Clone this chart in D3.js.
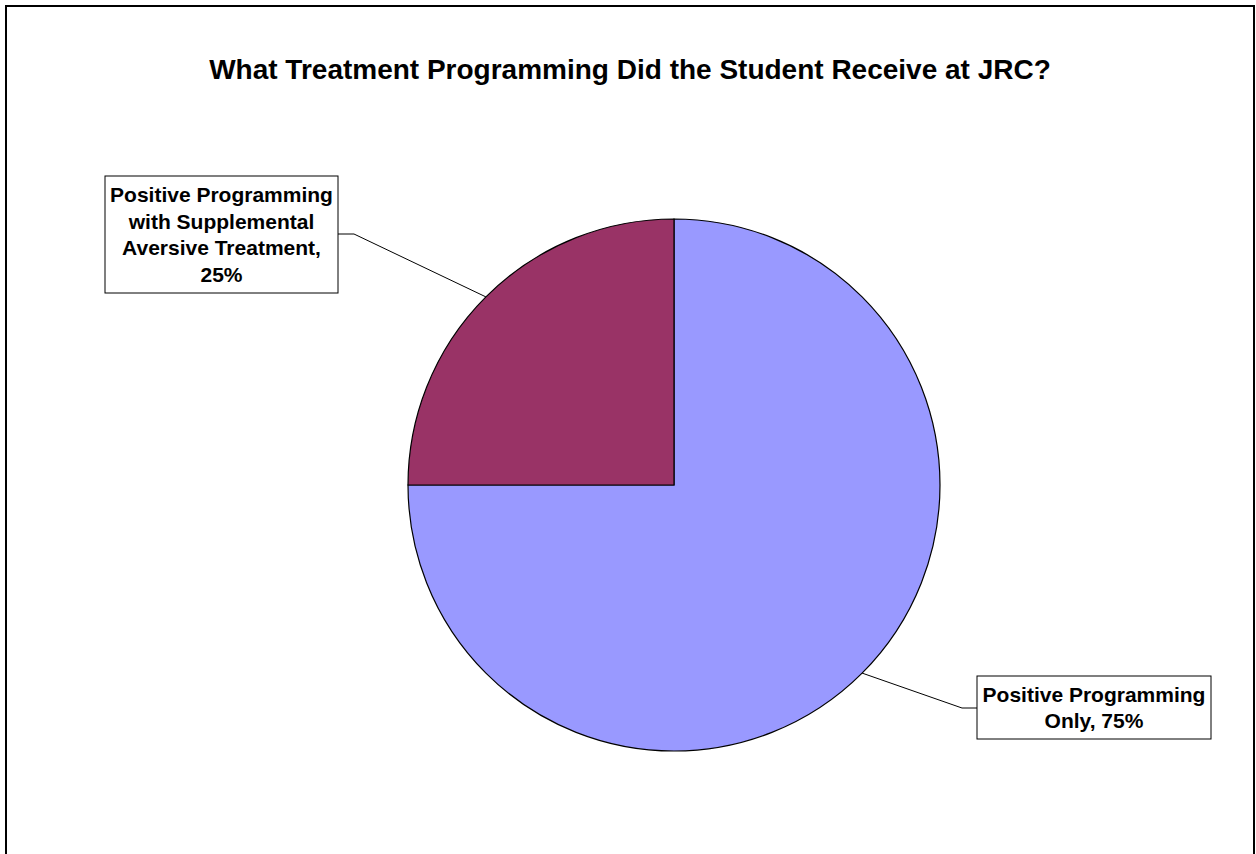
<!DOCTYPE html>
<html>
<head>
<meta charset="utf-8">
<script src="https://cdn.jsdelivr.net/npm/d3@7"></script>
<style>
  html, body { margin: 0; padding: 0; background: #fff; }
  svg { display: block; }
  text { font-family: Arial, "Liberation Sans", sans-serif; font-weight: bold; fill: #000; }
</style>
</head>
<body>
<svg id="chart" width="1256" height="854"></svg>
<script>
// ---- data ----
const title = "What Treatment Programming Did the Student Receive at JRC?";
const categories = ["Positive Programming Only", "Positive Programming with Supplemental Aversive Treatment"];
const values = [75, 25];
const colors = ["#9999FF", "#993366"];
const labelLines = [
  ["Positive Programming", "Only, 75%"],
  ["Positive Programming", "with Supplemental", "Aversive Treatment,", "25%"]
];

// ---- layout ----
const W = 1256, H = 854;
const svg = d3.select("#chart");

// outer frame (bottom edge falls outside the picture)
svg.append("rect")
  .attr("x", 6).attr("y", 6)
  .attr("width", 1248).attr("height", 900)
  .attr("fill", "#fff").attr("stroke", "#000").attr("stroke-width", 2);

svg.append("text")
  .attr("x", 630).attr("y", 79)
  .attr("text-anchor", "middle")
  .attr("font-size", 28)
  .text(title);

const cx = 674, cy = 485, r = 266;
const g = svg.append("g").attr("transform", `translate(${cx},${cy})`);

const pie = d3.pie().sort(null).value(d => d.value).startAngle(0).endAngle(2 * Math.PI);
const data = categories.map((c, i) => ({ name: c, value: values[i], color: colors[i], lines: labelLines[i] }));
const arcs = pie(data);
const arc = d3.arc().innerRadius(0).outerRadius(r);

g.selectAll("path.slice")
  .data(arcs)
  .join("path")
  .attr("class", "slice")
  .attr("d", arc)
  .attr("fill", d => d.data.color)
  .attr("stroke", "#000")
  .attr("stroke-width", 1.2);

// label boxes (position of each label box, in page coordinates)
const boxes = [
  { x: 977, y: 676, w: 234, h: 63, side: "left", elbow: 15, lineY: 708 },
  { x: 105, y: 176, w: 233, h: 117, side: "right", elbow: 16, lineY: 234 }
];
const lineH = 26.5;
const fs = 21;

arcs.forEach((a, i) => {
  const b = boxes[i];
  const mid = (a.startAngle + a.endAngle) / 2;
  const px = cx + r * Math.sin(mid), py = cy - r * Math.cos(mid);
  const edgeX = b.side === "left" ? b.x : b.x + b.w;
  const elbowX = b.side === "left" ? edgeX - b.elbow : edgeX + b.elbow;
  svg.append("polyline")
    .attr("points", `${px},${py} ${elbowX},${b.lineY} ${edgeX},${b.lineY}`)
    .attr("fill", "none").attr("stroke", "#000").attr("stroke-width", 1);
  svg.append("rect")
    .attr("x", b.x).attr("y", b.y).attr("width", b.w).attr("height", b.h)
    .attr("fill", "#fff").attr("stroke", "#000").attr("stroke-width", 1);
  const n = a.data.lines.length;
  const firstBase = b.y + b.h / 2 - (n - 1) * lineH / 2 + fs * 0.36;
  svg.append("text")
    .attr("text-anchor", "middle")
    .attr("font-size", fs)
    .selectAll("tspan")
    .data(a.data.lines)
    .join("tspan")
    .attr("x", b.x + b.w / 2)
    .attr("y", (d, k) => firstBase + k * lineH)
    .text(d => d);
});
</script>
</body>
</html>
